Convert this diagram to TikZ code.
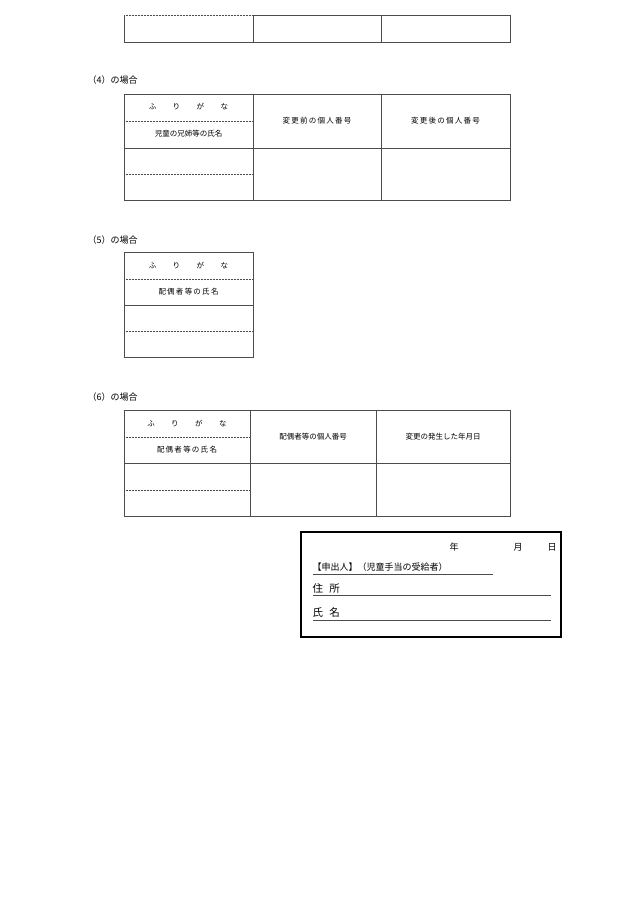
\documentclass[tikz,border=0pt]{standalone}
\usepackage{fontspec}
\newfontfamily\cjk{Noto Sans CJK JP}
\begin{document}
\begin{tikzpicture}[x=1pt,y=-1pt,
	cell/.style={font=\cjk\fontsize{7.5}{9}\selectfont},
	head/.style={font=\cjk\fontsize{9}{11}\selectfont, anchor=west},
	rule/.style={black!70, line width=0.6pt},
	dots/.style={black!70, densely dotted, line width=0.5pt}]
	\useasboundingbox (0,0) rectangle (630,903);

	% top table
	\draw[rule] (124,42) -- (510,42) -- (510,15) -- (253,15) -- (253,42) (381,15) -- (381,42) (124,15) -- (124,42);
	\draw[dots] (124,15) -- (253,15);

	% case 4
	\node[head] (h4) at (84,80) {（4）の場合};
	\draw[rule] (124,94) rectangle (510,200);
	\draw[rule] (124,148) -- (510,148) (253,94) -- (253,200) (381,94) -- (381,200);
	\draw[dots] (124,121) -- (253,121) (124,174) -- (253,174);
	\node[cell] (f4) at (188.5,107) {ふ\hspace{2.2em}り\hspace{2.2em}が\hspace{2.2em}な};
	\node[cell] (n4) at (188.5,134) {児童の兄姉等の氏名};
	\node[cell] (b4) at (317,121) {変\,更\,前\,の\,個\,人\,番\,号};
	\node[cell] (a4) at (445.5,121) {変\,更\,後\,の\,個\,人\,番\,号};

	% case 5
	\node[head] (h5) at (84,240) {（5）の場合};
	\draw[rule] (124,252) rectangle (253,357);
	\draw[rule] (124,305) -- (253,305);
	\draw[dots] (124,279) -- (253,279) (124,331) -- (253,331);
	\node[cell] (f5) at (188.5,265.5) {ふ\hspace{2.2em}り\hspace{2.2em}が\hspace{2.2em}な};
	\node[cell] (n5) at (188.5,292) {配\,偶\,者\,等\,の\,氏\,名};

	% case 6
	\node[head] (h6) at (84,397) {（6）の場合};
	\draw[rule] (124,410) rectangle (510,516);
	\draw[rule] (124,463) -- (510,463) (250,410) -- (250,516) (376,410) -- (376,516);
	\draw[dots] (124,437) -- (250,437) (124,490) -- (250,490);
	\node[cell] (f6) at (187,423.5) {ふ\hspace{2.2em}り\hspace{2.2em}が\hspace{2.2em}な};
	\node[cell] (n6) at (187,450) {配\,偶\,者\,等\,の\,氏\,名};
	\node[cell] (b6) at (313,437) {配偶者等の個人番号};
	\node[cell] (a6) at (443,437) {変更の発生した年月日};

	% applicant box
	\draw[line width=1.4pt] (301,532) rectangle (561,637);
	\node[head] (yr) at (446,547) {年};
	\node[head] (mo) at (510,547) {月};
	\node[head] (dy) at (544,547) {日};
	\node[head] (ap) at (309,567) {【申出人】（児童手当の受給者）};
	\draw[rule] (313,574) -- (493,574);
	\node[head, font=\cjk\fontsize{10.5}{12}\selectfont] (ad) at (309,588) {住\hspace{0.6em}所};
	\draw[rule] (313,595) -- (551,595);
	\node[head, font=\cjk\fontsize{10.5}{12}\selectfont] (nm) at (309,613) {氏\hspace{0.6em}名};
	\draw[rule] (313,620) -- (551,620);
\end{tikzpicture}
\end{document}
